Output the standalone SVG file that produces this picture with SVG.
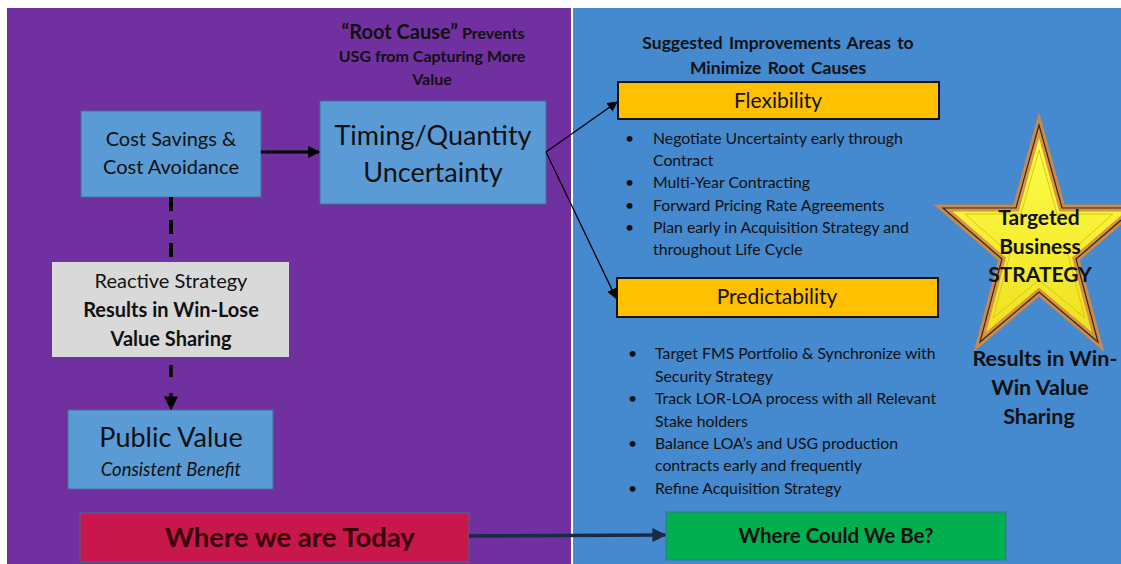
<svg xmlns="http://www.w3.org/2000/svg" width="1121" height="564" viewBox="0 0 1121 564">
<defs>
<style>
text{font-family:Lato,"Open Sans","Liberation Sans",sans-serif;fill:#111;}
.c{text-anchor:middle;}
.b{font-weight:bold;}
.box{fill:#5B9BD5;stroke:#41719C;stroke-width:1;}
.bul{font-size:15.8px;}
.hd{font-size:17.5px;font-weight:bold;word-spacing:2px;}
.conn{fill:none;stroke:#000;}
</style>
<marker id="ah" viewBox="0 0 10 10" refX="9" refY="5" markerWidth="4" markerHeight="4" orient="auto" markerUnits="strokeWidth"><path d="M0,0 L10,5 L0,10 Z" fill="#000"/></marker>
<marker id="ahs" viewBox="0 0 10 10" refX="9" refY="5" markerWidth="8" markerHeight="8" orient="auto" markerUnits="strokeWidth"><path d="M0,0 L10,5 L0,10 Z" fill="#000"/></marker>
<marker id="ahn" viewBox="0 0 10 10" refX="9" refY="5" markerWidth="4" markerHeight="4" orient="auto" markerUnits="strokeWidth"><path d="M0,0 L10,5 L0,10 Z" fill="#1a2a44"/></marker>
<linearGradient id="sg" x1="0" y1="0" x2="0" y2="1"><stop offset="0" stop-color="#FFFF4A"/><stop offset="1" stop-color="#EEE020"/></linearGradient>
</defs>
<rect x="0" y="0" width="1121" height="564" fill="#fff"/>
<rect x="7" y="8" width="564" height="556" fill="#7030A0"/>
<rect x="573" y="8" width="548" height="556" fill="#4589CE"/>

<g id="heading-root">
<text x="433" y="39" class="c b" style="font-size:16px"><tspan style="font-size:20px">“Root Cause”</tspan> Prevents</text>
<text x="432" y="62" class="c b" style="font-size:16px">USG from Capturing More</text>
<text x="432" y="85" class="c b" style="font-size:16px">Value</text>
</g>
<g id="node-cost">
<rect class="box" x="81" y="111" width="180" height="86"/>
<text x="171" y="146" class="c" style="font-size:20px">Cost Savings &amp;</text>
<text x="171" y="174" class="c" style="font-size:20px">Cost Avoidance</text>
</g>
<g id="node-timing">
<rect class="box" x="320" y="101" width="226" height="103"/>
<text x="433" y="145" class="c" style="font-size:27px">Timing/Quantity</text>
<text x="433" y="182" class="c" style="font-size:27px">Uncertainty</text>
</g>
<g id="node-reactive">
<rect x="52" y="262" width="237" height="95" fill="#D9D9D9"/>
<text x="171" y="288" class="c" style="font-size:20px">Reactive Strategy</text>
<text x="171" y="317" class="c b" style="font-size:20px">Results in Win-Lose</text>
<text x="171" y="346" class="c b" style="font-size:20px">Value Sharing</text>
</g>
<g id="node-public">
<rect class="box" x="68" y="410" width="205" height="79"/>
<text x="171" y="447" class="c" style="font-size:27px">Public Value</text>
<text x="171" y="476" class="c" style="font-size:18.5px;font-style:italic">Consistent Benefit</text>
</g>
<g id="node-today">
<rect x="80" y="513" width="389" height="49" fill="#C8174A" stroke="#3D6E9A" stroke-width="1"/>
<text x="290" y="547" class="c b" style="font-size:27.5px;fill:#3A0008">Where we are Today</text>
</g>

<g id="heading-improve">
<text x="778" y="49" class="c hd">Suggested Improvements Areas to</text>
<text x="778" y="74" class="c hd">Minimize Root Causes</text>
</g>
<g id="node-flex">
<rect x="618" y="82" width="321" height="37" fill="#FFC000" stroke="#111" stroke-width="2"/>
<text x="778" y="108" class="c" style="font-size:21px">Flexibility</text>
</g>
<g id="list-flex" class="bul">
<text x="625" y="144">•</text><text x="653" y="144">Negotiate Uncertainty early through</text>
<text x="653" y="166">Contract</text>
<text x="625" y="188">•</text><text x="653" y="188">Multi-Year Contracting</text>
<text x="625" y="211">•</text><text x="653" y="211">Forward Pricing Rate Agreements</text>
<text x="625" y="233">•</text><text x="653" y="233">Plan early in Acquisition Strategy and</text>
<text x="653" y="255">throughout Life Cycle</text>
</g>
<g id="node-pred">
<rect x="617" y="278" width="321" height="39" fill="#FFC000" stroke="#111" stroke-width="2"/>
<text x="777" y="304" class="c" style="font-size:21px">Predictability</text>
</g>
<g id="list-pred" class="bul">
<text x="628" y="359">•</text><text x="655" y="359">Target FMS Portfolio &amp; Synchronize with</text>
<text x="655" y="382">Security Strategy</text>
<text x="628" y="404">•</text><text x="655" y="404">Track LOR-LOA process with all Relevant</text>
<text x="655" y="427">Stake holders</text>
<text x="628" y="449">•</text><text x="655" y="449">Balance  LOA’s and USG production</text>
<text x="655" y="471">contracts early and frequently</text>
<text x="628" y="494">•</text><text x="655" y="494">Refine Acquisition Strategy</text>
</g>
<g id="node-star">
<polygon points="1039,125 1062,208 1135,208 1076,259 1098,342 1039,292 980,342 1002,259 943,208 1016,208" fill="url(#sg)" stroke="#D9893E" stroke-width="7" stroke-linejoin="miter" stroke-opacity="0.9"/>
<polygon points="1039,125 1062,208 1135,208 1076,259 1098,342 1039,292 980,342 1002,259 943,208 1016,208" fill="none" stroke="#2A2A2A" stroke-width="1.2"/>
<polygon points="1039,150 1057,214 1113,214 1068,254 1085,318 1039,280 993,318 1010,254 965,214 1021,214" fill="none" stroke="#D8C818" stroke-width="1"/>
<text x="1039" y="225" class="c b" style="font-size:21px">Targeted</text>
<text x="1040" y="254" class="c b" style="font-size:21px">Business</text>
<text x="1040" y="282" class="c b" style="font-size:21px">STRATEGY</text>
</g>
<g id="label-winwin">
<text x="1045" y="366" class="c b" style="font-size:21.5px">Results in Win-</text>
<text x="1040" y="395" class="c b" style="font-size:21.5px">Win Value</text>
<text x="1039" y="424" class="c b" style="font-size:21.5px">Sharing</text>
</g>
<g id="node-could">
<rect x="666" y="512" width="340" height="48" fill="#00B050" stroke="#3D6E9A" stroke-width="1"/>
<text x="836" y="543" class="c b" style="font-size:20.5px">Where Could We Be?</text>
</g>

<g id="connectors">
<line class="conn" x1="261" y1="152" x2="319" y2="152" stroke-width="3" marker-end="url(#ah)"/>
<line class="conn" x1="171" y1="197" x2="171" y2="262" stroke-width="4" stroke-dasharray="14,9"/>
<line class="conn" x1="171" y1="365" x2="171" y2="409" stroke-width="3.5" stroke-dasharray="12,16" marker-end="url(#ah)"/>
<line class="conn" x1="546" y1="152" x2="617" y2="102" stroke-width="1.3" marker-end="url(#ahs)"/>
<line class="conn" x1="546" y1="152" x2="616" y2="298" stroke-width="1.3" marker-end="url(#ahs)"/>
<line x1="469" y1="536" x2="665" y2="535" stroke="#1a2a44" stroke-width="3.5" marker-end="url(#ahn)" fill="none"/>
</g>
</svg>
